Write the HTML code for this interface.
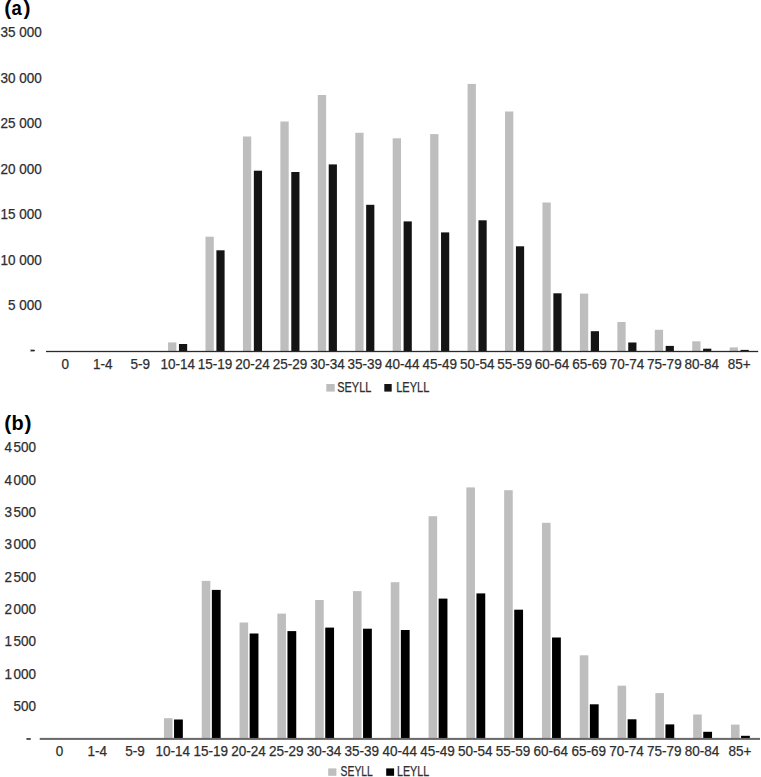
<!DOCTYPE html>
<html><head><meta charset="utf-8"><style>
html,body{margin:0;padding:0;background:#fff;}
body{width:761px;height:777px;overflow:hidden;}
svg{display:block;}
text{font-family:"Liberation Sans",sans-serif;}
.lab{font-size:14px;fill:#2e2e2e;stroke:#2e2e2e;stroke-width:0.25px;}
.ttl{font-size:21px;font-weight:bold;fill:#000;}
</style></head><body>
<svg width="761" height="777" viewBox="0 0 761 777">
<rect width="761" height="777" fill="#fff"/>
<text class="ttl" x="4.3" y="15.3">(</text>
<text class="ttl" transform="translate(11.6,15.3) scale(0.88,1)">a</text>
<text class="ttl" x="23.6" y="15.3">)</text>
<text class="ttl" x="4.3" y="429.5">(</text>
<text class="ttl" transform="translate(11.4,429.5) scale(0.95,1)">b</text>
<text class="ttl" x="24.5" y="429.5">)</text>
<g class="lab">
<text x="41.90" y="37.00" text-anchor="end" font-size="14.0" textLength="41.31" lengthAdjust="spacingAndGlyphs">35 000</text>
<text x="41.90" y="82.51" text-anchor="end" font-size="14.0" textLength="41.31" lengthAdjust="spacingAndGlyphs">30 000</text>
<text x="41.90" y="128.02" text-anchor="end" font-size="14.0" textLength="41.31" lengthAdjust="spacingAndGlyphs">25 000</text>
<text x="41.90" y="173.53" text-anchor="end" font-size="14.0" textLength="41.31" lengthAdjust="spacingAndGlyphs">20 000</text>
<text x="41.90" y="219.04" text-anchor="end" font-size="14.0" textLength="41.31" lengthAdjust="spacingAndGlyphs">15 000</text>
<text x="41.90" y="264.55" text-anchor="end" font-size="14.0" textLength="41.31" lengthAdjust="spacingAndGlyphs">10 000</text>
<text x="41.90" y="310.06" text-anchor="end" font-size="14.0" textLength="33.80" lengthAdjust="spacingAndGlyphs">5 000</text>
<rect x="30.8" y="349.9" width="4" height="1.3" fill="#222"/>
<text x="65.34" y="369.30" text-anchor="middle" font-size="14.0" textLength="7.51" lengthAdjust="spacingAndGlyphs">0</text>
<text x="102.78" y="369.30" text-anchor="middle" font-size="14.0" textLength="19.52" lengthAdjust="spacingAndGlyphs">1-4</text>
<text x="140.22" y="369.30" text-anchor="middle" font-size="14.0" textLength="19.52" lengthAdjust="spacingAndGlyphs">5-9</text>
<text x="177.66" y="369.30" text-anchor="middle" font-size="14.0" textLength="34.55" lengthAdjust="spacingAndGlyphs">10-14</text>
<text x="215.10" y="369.30" text-anchor="middle" font-size="14.0" textLength="34.55" lengthAdjust="spacingAndGlyphs">15-19</text>
<text x="252.54" y="369.30" text-anchor="middle" font-size="14.0" textLength="34.55" lengthAdjust="spacingAndGlyphs">20-24</text>
<text x="289.98" y="369.30" text-anchor="middle" font-size="14.0" textLength="34.55" lengthAdjust="spacingAndGlyphs">25-29</text>
<text x="327.42" y="369.30" text-anchor="middle" font-size="14.0" textLength="34.55" lengthAdjust="spacingAndGlyphs">30-34</text>
<text x="364.86" y="369.30" text-anchor="middle" font-size="14.0" textLength="34.55" lengthAdjust="spacingAndGlyphs">35-39</text>
<text x="402.30" y="369.30" text-anchor="middle" font-size="14.0" textLength="34.55" lengthAdjust="spacingAndGlyphs">40-44</text>
<text x="439.74" y="369.30" text-anchor="middle" font-size="14.0" textLength="34.55" lengthAdjust="spacingAndGlyphs">45-49</text>
<text x="477.18" y="369.30" text-anchor="middle" font-size="14.0" textLength="34.55" lengthAdjust="spacingAndGlyphs">50-54</text>
<text x="514.62" y="369.30" text-anchor="middle" font-size="14.0" textLength="34.55" lengthAdjust="spacingAndGlyphs">55-59</text>
<text x="552.06" y="369.30" text-anchor="middle" font-size="14.0" textLength="34.55" lengthAdjust="spacingAndGlyphs">60-64</text>
<text x="589.50" y="369.30" text-anchor="middle" font-size="14.0" textLength="34.55" lengthAdjust="spacingAndGlyphs">65-69</text>
<text x="626.94" y="369.30" text-anchor="middle" font-size="14.0" textLength="34.55" lengthAdjust="spacingAndGlyphs">70-74</text>
<text x="664.38" y="369.30" text-anchor="middle" font-size="14.0" textLength="34.55" lengthAdjust="spacingAndGlyphs">75-79</text>
<text x="701.82" y="369.30" text-anchor="middle" font-size="14.0" textLength="34.55" lengthAdjust="spacingAndGlyphs">80-84</text>
<text x="739.26" y="369.30" text-anchor="middle" font-size="14.0" textLength="22.91" lengthAdjust="spacingAndGlyphs">85+</text>
</g>
<g class="lab">
<text x="12.00" y="452.30" text-anchor="end" font-size="14.0" textLength="7.51" lengthAdjust="spacingAndGlyphs">4</text>
<text x="36.00" y="452.30" text-anchor="end" font-size="14.0" textLength="22.53" lengthAdjust="spacingAndGlyphs">500</text>
<text x="12.00" y="484.63" text-anchor="end" font-size="14.0" textLength="7.51" lengthAdjust="spacingAndGlyphs">4</text>
<text x="36.00" y="484.63" text-anchor="end" font-size="14.0" textLength="22.53" lengthAdjust="spacingAndGlyphs">000</text>
<text x="12.00" y="516.96" text-anchor="end" font-size="14.0" textLength="7.51" lengthAdjust="spacingAndGlyphs">3</text>
<text x="36.00" y="516.96" text-anchor="end" font-size="14.0" textLength="22.53" lengthAdjust="spacingAndGlyphs">500</text>
<text x="12.00" y="549.29" text-anchor="end" font-size="14.0" textLength="7.51" lengthAdjust="spacingAndGlyphs">3</text>
<text x="36.00" y="549.29" text-anchor="end" font-size="14.0" textLength="22.53" lengthAdjust="spacingAndGlyphs">000</text>
<text x="12.00" y="581.62" text-anchor="end" font-size="14.0" textLength="7.51" lengthAdjust="spacingAndGlyphs">2</text>
<text x="36.00" y="581.62" text-anchor="end" font-size="14.0" textLength="22.53" lengthAdjust="spacingAndGlyphs">500</text>
<text x="12.00" y="613.95" text-anchor="end" font-size="14.0" textLength="7.51" lengthAdjust="spacingAndGlyphs">2</text>
<text x="36.00" y="613.95" text-anchor="end" font-size="14.0" textLength="22.53" lengthAdjust="spacingAndGlyphs">000</text>
<text x="12.00" y="646.28" text-anchor="end" font-size="14.0" textLength="7.51" lengthAdjust="spacingAndGlyphs">1</text>
<text x="36.00" y="646.28" text-anchor="end" font-size="14.0" textLength="22.53" lengthAdjust="spacingAndGlyphs">500</text>
<text x="12.00" y="678.61" text-anchor="end" font-size="14.0" textLength="7.51" lengthAdjust="spacingAndGlyphs">1</text>
<text x="36.00" y="678.61" text-anchor="end" font-size="14.0" textLength="22.53" lengthAdjust="spacingAndGlyphs">000</text>
<text x="36.00" y="710.94" text-anchor="end" font-size="14.0" textLength="22.53" lengthAdjust="spacingAndGlyphs">500</text>
<rect x="26.8" y="738.3" width="3.9" height="1.4" fill="#222"/>
<text x="59.45" y="755.90" text-anchor="middle" font-size="14.0" textLength="7.51" lengthAdjust="spacingAndGlyphs">0</text>
<text x="97.25" y="755.90" text-anchor="middle" font-size="14.0" textLength="19.52" lengthAdjust="spacingAndGlyphs">1-4</text>
<text x="135.05" y="755.90" text-anchor="middle" font-size="14.0" textLength="19.52" lengthAdjust="spacingAndGlyphs">5-9</text>
<text x="172.85" y="755.90" text-anchor="middle" font-size="14.0" textLength="34.55" lengthAdjust="spacingAndGlyphs">10-14</text>
<text x="210.65" y="755.90" text-anchor="middle" font-size="14.0" textLength="34.55" lengthAdjust="spacingAndGlyphs">15-19</text>
<text x="248.45" y="755.90" text-anchor="middle" font-size="14.0" textLength="34.55" lengthAdjust="spacingAndGlyphs">20-24</text>
<text x="286.25" y="755.90" text-anchor="middle" font-size="14.0" textLength="34.55" lengthAdjust="spacingAndGlyphs">25-29</text>
<text x="324.05" y="755.90" text-anchor="middle" font-size="14.0" textLength="34.55" lengthAdjust="spacingAndGlyphs">30-34</text>
<text x="361.85" y="755.90" text-anchor="middle" font-size="14.0" textLength="34.55" lengthAdjust="spacingAndGlyphs">35-39</text>
<text x="399.65" y="755.90" text-anchor="middle" font-size="14.0" textLength="34.55" lengthAdjust="spacingAndGlyphs">40-44</text>
<text x="437.45" y="755.90" text-anchor="middle" font-size="14.0" textLength="34.55" lengthAdjust="spacingAndGlyphs">45-49</text>
<text x="475.25" y="755.90" text-anchor="middle" font-size="14.0" textLength="34.55" lengthAdjust="spacingAndGlyphs">50-54</text>
<text x="513.05" y="755.90" text-anchor="middle" font-size="14.0" textLength="34.55" lengthAdjust="spacingAndGlyphs">55-59</text>
<text x="550.85" y="755.90" text-anchor="middle" font-size="14.0" textLength="34.55" lengthAdjust="spacingAndGlyphs">60-64</text>
<text x="588.65" y="755.90" text-anchor="middle" font-size="14.0" textLength="34.55" lengthAdjust="spacingAndGlyphs">65-69</text>
<text x="626.45" y="755.90" text-anchor="middle" font-size="14.0" textLength="34.55" lengthAdjust="spacingAndGlyphs">70-74</text>
<text x="664.25" y="755.90" text-anchor="middle" font-size="14.0" textLength="34.55" lengthAdjust="spacingAndGlyphs">75-79</text>
<text x="702.05" y="755.90" text-anchor="middle" font-size="14.0" textLength="34.55" lengthAdjust="spacingAndGlyphs">80-84</text>
<text x="739.85" y="755.90" text-anchor="middle" font-size="14.0" textLength="22.91" lengthAdjust="spacingAndGlyphs">85+</text>
</g>
<rect x="168.06" y="342.40" width="8.3" height="8.60" fill="#bebebe"/>
<rect x="178.96" y="344.00" width="8.2" height="7.00" fill="#141414"/>
<rect x="205.50" y="236.70" width="8.3" height="114.30" fill="#bebebe"/>
<rect x="216.40" y="250.30" width="8.2" height="100.70" fill="#141414"/>
<rect x="242.94" y="136.50" width="8.3" height="214.50" fill="#bebebe"/>
<rect x="253.84" y="170.70" width="8.2" height="180.30" fill="#141414"/>
<rect x="280.38" y="121.50" width="8.3" height="229.50" fill="#bebebe"/>
<rect x="291.28" y="172.00" width="8.2" height="179.00" fill="#141414"/>
<rect x="317.82" y="95.00" width="8.3" height="256.00" fill="#bebebe"/>
<rect x="328.72" y="164.40" width="8.2" height="186.60" fill="#141414"/>
<rect x="355.26" y="132.80" width="8.3" height="218.20" fill="#bebebe"/>
<rect x="366.16" y="204.80" width="8.2" height="146.20" fill="#141414"/>
<rect x="392.70" y="138.30" width="8.3" height="212.70" fill="#bebebe"/>
<rect x="403.60" y="221.40" width="8.2" height="129.60" fill="#141414"/>
<rect x="430.14" y="134.10" width="8.3" height="216.90" fill="#bebebe"/>
<rect x="441.04" y="232.40" width="8.2" height="118.60" fill="#141414"/>
<rect x="467.58" y="83.90" width="8.3" height="267.10" fill="#bebebe"/>
<rect x="478.48" y="220.30" width="8.2" height="130.70" fill="#141414"/>
<rect x="505.02" y="111.50" width="8.3" height="239.50" fill="#bebebe"/>
<rect x="515.92" y="246.30" width="8.2" height="104.70" fill="#141414"/>
<rect x="542.46" y="202.50" width="8.3" height="148.50" fill="#bebebe"/>
<rect x="553.36" y="293.30" width="8.2" height="57.70" fill="#141414"/>
<rect x="579.90" y="293.60" width="8.3" height="57.40" fill="#bebebe"/>
<rect x="590.80" y="331.20" width="8.2" height="19.80" fill="#141414"/>
<rect x="617.34" y="322.00" width="8.3" height="29.00" fill="#bebebe"/>
<rect x="628.24" y="342.50" width="8.2" height="8.50" fill="#141414"/>
<rect x="654.78" y="329.80" width="8.3" height="21.20" fill="#bebebe"/>
<rect x="665.68" y="345.90" width="8.2" height="5.10" fill="#141414"/>
<rect x="692.22" y="341.30" width="8.3" height="9.70" fill="#bebebe"/>
<rect x="703.12" y="348.70" width="8.2" height="2.30" fill="#141414"/>
<rect x="729.66" y="347.40" width="8.3" height="3.60" fill="#bebebe"/>
<rect x="740.56" y="349.90" width="8.2" height="1.10" fill="#141414"/>
<rect x="46.0" y="350.85" width="712.20" height="1.3" fill="#2a2a2a"/>
<rect x="163.95" y="718.20" width="8.6" height="20.00" fill="#bebebe"/>
<rect x="174.05" y="719.50" width="8.8" height="18.70" fill="#000000"/>
<rect x="201.75" y="580.90" width="8.6" height="157.30" fill="#bebebe"/>
<rect x="211.85" y="589.90" width="8.8" height="148.30" fill="#000000"/>
<rect x="239.55" y="622.50" width="8.6" height="115.70" fill="#bebebe"/>
<rect x="249.65" y="633.50" width="8.8" height="104.70" fill="#000000"/>
<rect x="277.35" y="613.60" width="8.6" height="124.60" fill="#bebebe"/>
<rect x="287.45" y="631.10" width="8.8" height="107.10" fill="#000000"/>
<rect x="315.15" y="600.00" width="8.6" height="138.20" fill="#bebebe"/>
<rect x="325.25" y="627.60" width="8.8" height="110.60" fill="#000000"/>
<rect x="352.95" y="591.10" width="8.6" height="147.10" fill="#bebebe"/>
<rect x="363.05" y="628.70" width="8.8" height="109.50" fill="#000000"/>
<rect x="390.75" y="582.20" width="8.6" height="156.00" fill="#bebebe"/>
<rect x="400.85" y="630.00" width="8.8" height="108.20" fill="#000000"/>
<rect x="428.55" y="516.20" width="8.6" height="222.00" fill="#bebebe"/>
<rect x="438.65" y="598.60" width="8.8" height="139.60" fill="#000000"/>
<rect x="466.35" y="487.40" width="8.6" height="250.80" fill="#bebebe"/>
<rect x="476.45" y="593.40" width="8.8" height="144.80" fill="#000000"/>
<rect x="504.15" y="490.20" width="8.6" height="248.00" fill="#bebebe"/>
<rect x="514.25" y="609.70" width="8.8" height="128.50" fill="#000000"/>
<rect x="541.95" y="522.80" width="8.6" height="215.40" fill="#bebebe"/>
<rect x="552.05" y="637.50" width="8.8" height="100.70" fill="#000000"/>
<rect x="579.75" y="655.30" width="8.6" height="82.90" fill="#bebebe"/>
<rect x="589.85" y="704.30" width="8.8" height="33.90" fill="#000000"/>
<rect x="617.55" y="685.70" width="8.6" height="52.50" fill="#bebebe"/>
<rect x="627.65" y="719.30" width="8.8" height="18.90" fill="#000000"/>
<rect x="655.35" y="693.10" width="8.6" height="45.10" fill="#bebebe"/>
<rect x="665.45" y="724.40" width="8.8" height="13.80" fill="#000000"/>
<rect x="693.15" y="714.50" width="8.6" height="23.70" fill="#bebebe"/>
<rect x="703.25" y="731.80" width="8.8" height="6.40" fill="#000000"/>
<rect x="730.95" y="724.60" width="8.6" height="13.60" fill="#bebebe"/>
<rect x="741.05" y="735.80" width="8.8" height="2.40" fill="#000000"/>
<rect x="39.7" y="737.9" width="720.30" height="2.0" fill="#686868"/>
<rect x="326.3" y="384" width="8.4" height="7.6" fill="#bebebe"/>
<text class="lab" x="337.2" y="391.9" textLength="34.2" lengthAdjust="spacingAndGlyphs">SEYLL</text>
<rect x="384.3" y="384" width="7.4" height="7.6" fill="#141414"/>
<text class="lab" x="396.2" y="391.9" textLength="33.2" lengthAdjust="spacingAndGlyphs">LEYLL</text>
<rect x="328.2" y="768.4" width="8.2" height="7.4" fill="#bebebe"/>
<text class="lab" x="340.6" y="775.8" textLength="32.2" lengthAdjust="spacingAndGlyphs">SEYLL</text>
<rect x="386.2" y="768.4" width="7.9" height="7.4" fill="#000000"/>
<text class="lab" x="397" y="775.8" textLength="32.2" lengthAdjust="spacingAndGlyphs">LEYLL</text>
</svg>
</body></html>
